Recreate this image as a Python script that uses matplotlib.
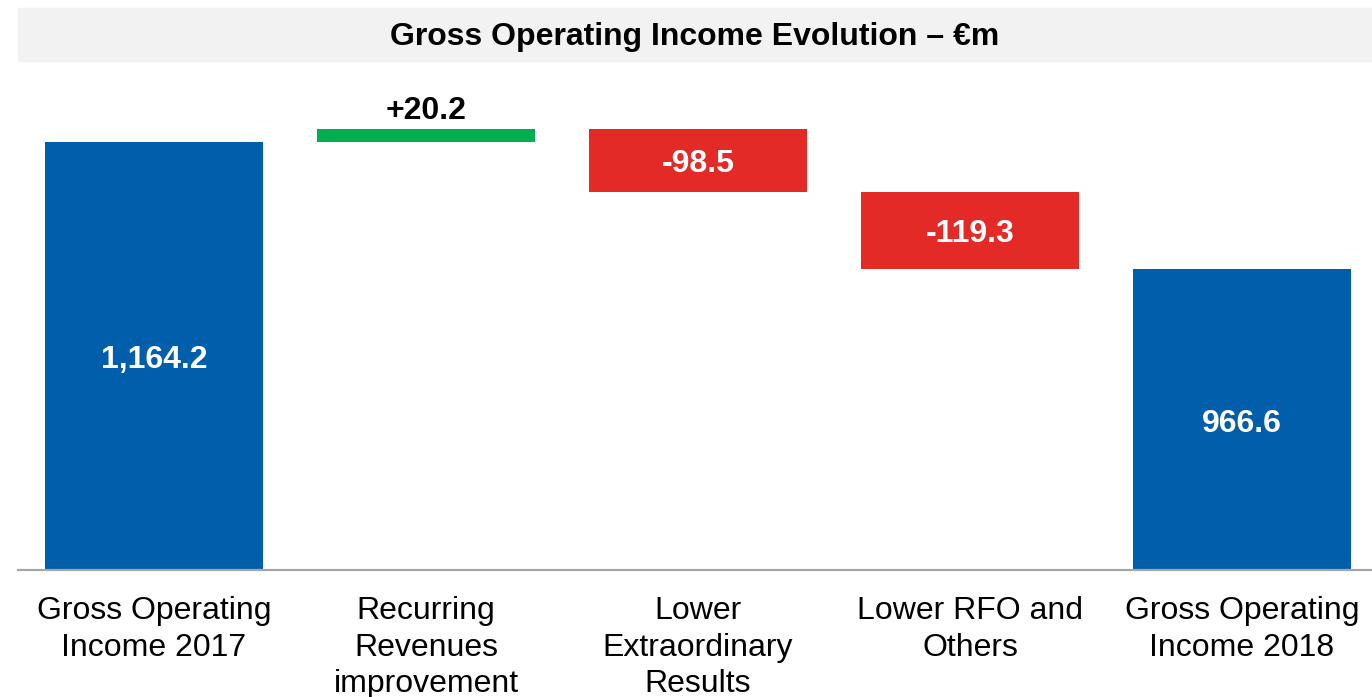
import matplotlib
matplotlib.use("Agg")
import matplotlib.pyplot as plt
from matplotlib.patches import Rectangle

plt.rcParams['font.family'] = ['Liberation Sans', 'DejaVu Sans']

# data
categories = ["Gross Operating\nIncome 2017", "Recurring\nRevenues\nimprovement",
              "Lower\nExtraordinary\nResults", "Lower RFO and\nOthers",
              "Gross Operating\nIncome 2018"]
values = [1164.2, 20.2, -98.5, -119.3, 966.6]
is_total = [True, False, False, False, True]
labels = ["1,164.2", "+20.2", "-98.5", "-119.3", "966.6"]

c_total = "#005EAA"
c_up = "#00AE4F"
c_down = "#E42A26"

fig = plt.figure(figsize=(13.72, 6.97), dpi=100)

# title band
fig.patches.append(Rectangle((18 / 1372, 1 - 61 / 697), 1354 / 1372, 53 / 697,
                             transform=fig.transFigure, color="#F2F2F2", zorder=0))
fig.text(695 / 1372, 1 - 37.5 / 697, "Gross Operating Income Evolution \u2013 \u20acm",
         ha="center", va="center", fontsize=23, fontweight="bold")

ax = fig.add_axes([18 / 1372, 127 / 697, 1354 / 1372, 500 / 697])
ymin, ymax = 498.3, 1276.3
ax.set_xlim(-0.5, 4.478)
ax.set_ylim(ymin, ymax)

running = 0
for i, (v, tot) in enumerate(zip(values, is_total)):
    if tot:
        bottom, height, col = 0, v, c_total
        running = v
    else:
        bottom = running if v > 0 else running + v
        height = abs(v)
        col = c_up if v > 0 else c_down
        running += v
    ax.bar(i, height, bottom=bottom, width=0.8, color=col, zorder=1)

    top = bottom + height
    if tot:
        ypos, dy, tc = (max(bottom, ymin) + top) / 2, -3, "white"
    elif v > 0:
        ypos, dy, tc = top, 13, "black"
    else:
        ypos, dy, tc = bottom + height / 2, -2.5, "white"
    ax.annotate(labels[i], (i, ypos), xytext=(0, dy), textcoords="offset points",
                ha="center", va="center", color=tc, fontsize=23, fontweight="bold")

ax.set_xticks(range(len(categories)))
ax.set_xticklabels(categories, fontsize=23, linespacing=1.3)
ax.tick_params(axis="x", length=0, pad=18.5)
ax.set_yticks([])
for s in ["top", "right", "left"]:
    ax.spines[s].set_visible(False)
ax.spines["bottom"].set_color("#A6A6A6")
ax.spines["bottom"].set_linewidth(1.6)
ax.spines["bottom"].set_zorder(3)

fig.savefig("out.png", dpi=100)
